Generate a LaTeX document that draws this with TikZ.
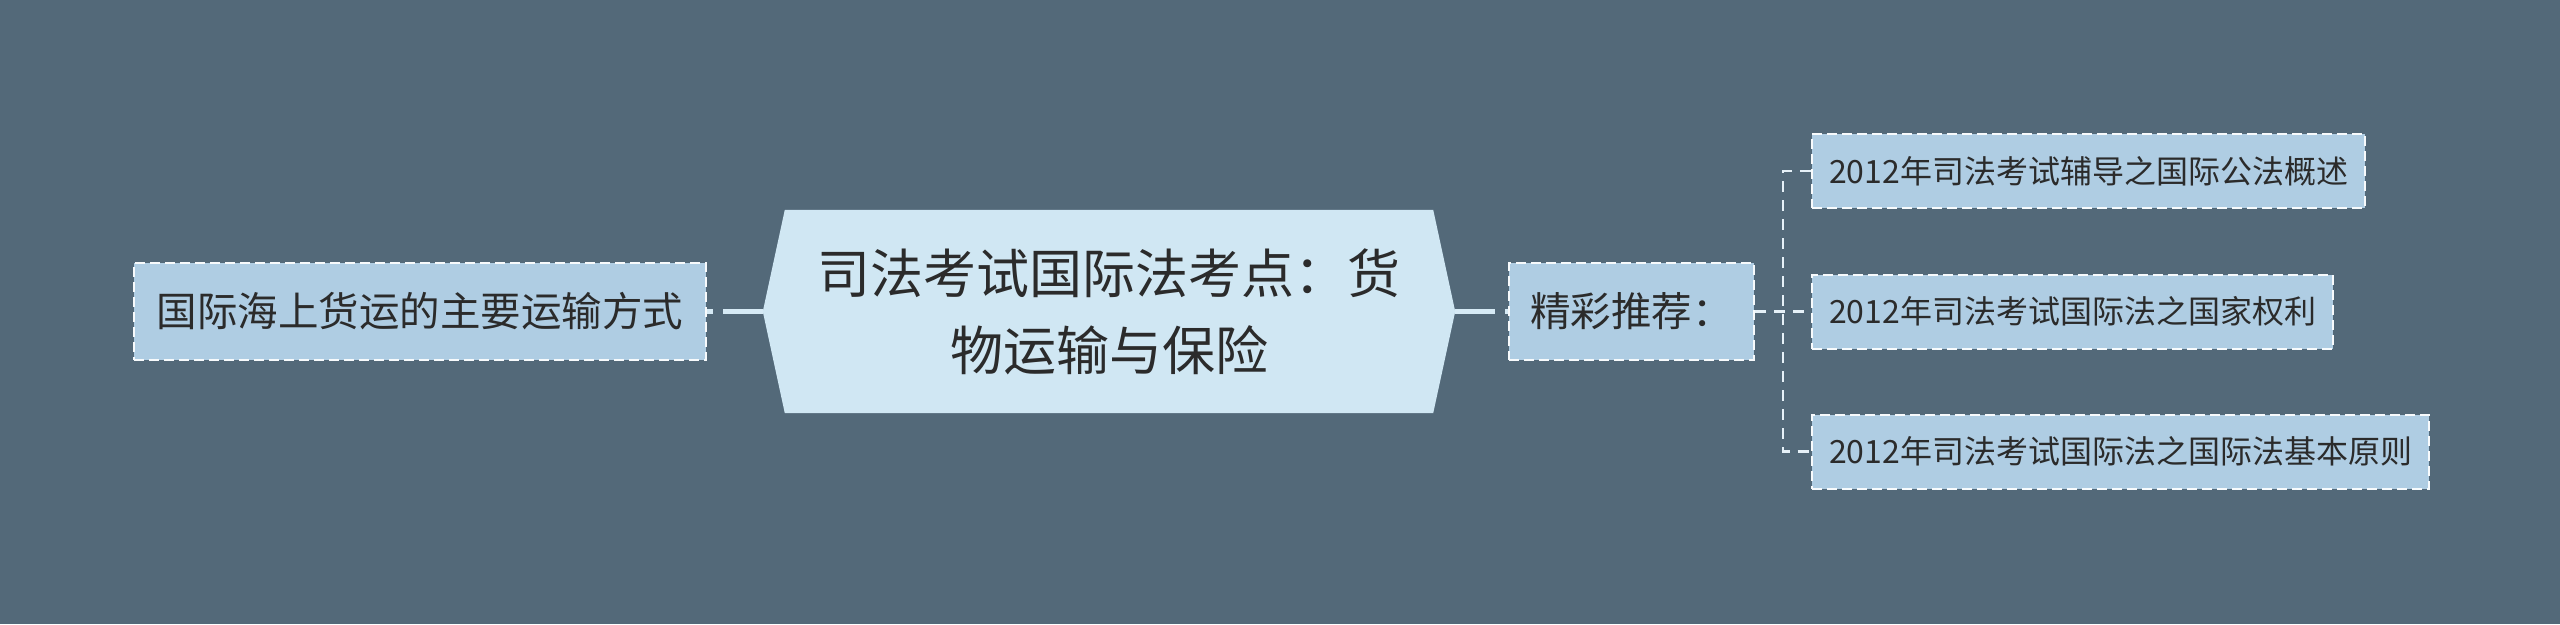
\documentclass[tikz,border=0pt]{standalone}
\usepackage{fontspec}
\setmainfont{Noto Sans CJK SC}
\definecolor{bgc}{HTML}{536979}
\definecolor{hexfill}{HTML}{D0E7F3}
\definecolor{boxfill}{HTML}{AFCDE3}
\definecolor{txt}{HTML}{2B2B2B}
\definecolor{mainline}{HTML}{D6EAF5}
\definecolor{subline}{HTML}{E6F1F8}
\pgfdeclarelayer{bglayer}
\pgfsetlayers{bglayer,main}
\tikzset{
  boxnode/.style={draw=white!90!boxfill, line width=2pt, dash pattern=on 10pt off 5pt, fill=boxfill, text=txt, inner ysep=0pt, minimum height=97pt, font=\fontsize{40.5}{48}\selectfont},
  childnode/.style={draw=white!90!boxfill, line width=2pt, dash pattern=on 10pt off 5pt, fill=boxfill, text=txt, inner xsep=17pt, inner ysep=0pt, minimum height=74pt, anchor=west, font=\fontsize{32}{38}\selectfont},
  mainconn/.style={draw=mainline, line width=5pt, dash pattern=on 40pt off 10pt},
  subconn/.style={draw=subline, line width=2.5pt, dash pattern=on 11pt off 8pt},
}
\begin{document}
\begin{tikzpicture}[x=1pt,y=-1pt]
\useasboundingbox (0,0) rectangle (2560,624);
\begin{pgfonlayer}{bglayer}
\fill[bgc] (0,0) rectangle (2560,624);
\end{pgfonlayer}
% central topic
\node[minimum width=692pt, minimum height=203pt, inner sep=0pt, text=txt, align=center,
      font=\fontsize{53}{77}\selectfont] (center) at (1109,311.5)
      {司法考试国际法考点：货\\物运输与保险};
\begin{pgfonlayer}{bglayer}
\fill[hexfill] (center.west) -- ([xshift=22pt]center.north west) -- ([xshift=-22pt]center.north east)
  -- (center.east) -- ([xshift=-22pt]center.south east) -- ([xshift=22pt]center.south west) -- cycle;
\end{pgfonlayer}
% left
\node[boxnode, minimum width=572pt] (left) at (420,311.5) {国际海上货运的主要运输方式};
% right main
\node[boxnode, minimum width=245pt] (rec) at (1631.5,311.5) {精彩推荐：};
% children
\node[childnode] (c1) at (1811,171) {2012年司法考试辅导之国际公法概述};
\node[childnode] (c2) at (1811,311.5) {2012年司法考试国际法之国家权利};
\node[childnode] (c3) at (1811,451.5) {2012年司法考试国际法之国际法基本原则};
\coordinate (j) at (1783,311.5);
% connectors
\begin{pgfonlayer}{bglayer}
\draw[mainconn] (center.west) -- (left.east);
\draw[mainconn] (center.east) -- (rec.west);
\draw[subconn] (rec.east) -- (c2.west);
\draw[subconn] (c1.west) -- (c1.west -| j) -- (c3.west -| j) -- (c3.west);
\end{pgfonlayer}
\end{tikzpicture}
\end{document}
